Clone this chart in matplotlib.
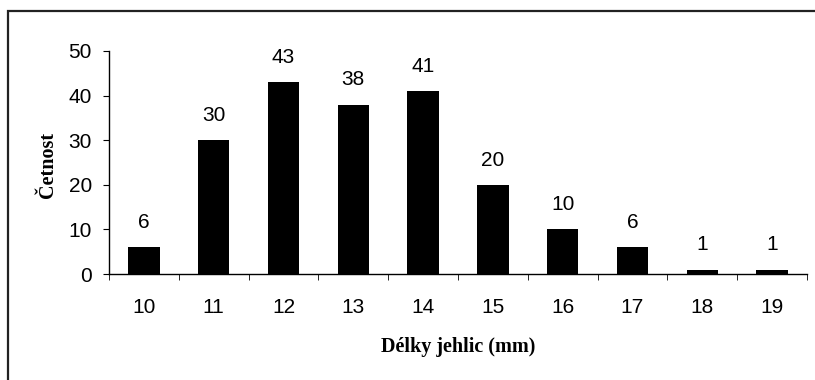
import matplotlib

matplotlib.use("Agg")
import matplotlib.pyplot as plt  # noqa: E402
from matplotlib.patches import Rectangle  # noqa: E402
import numpy as np  # noqa: E402

lengths = ["10", "11", "12", "13", "14", "15", "16", "17", "18", "19"]
counts = [6, 30, 43, 38, 41, 20, 10, 6, 1, 1]
yticks = [0, 10, 20, 30, 40, 50]

W, H = 815, 380
SANS = ["Liberation Sans", "DejaVu Sans"]
SERIF = ["Liberation Serif", "DejaVu Serif"]

fig = plt.figure(figsize=(W / 100, H / 100), dpi=100)

# outer chart frame (runs off the right and bottom edges)
fig.patches.append(Rectangle((8 / W, -0.1), 1.2, 1 - 11 / H + 0.1,
                             transform=fig.transFigure, fill=False,
                             edgecolor="#222222", linewidth=1.6))

ax = fig.add_axes([109 / W, 1 - 274 / H, (807 - 109) / W, (274 - 51) / H])
x = np.arange(len(lengths))
ax.bar(x, counts, width=0.45, color="black")

for xi, c in zip(x, counts):
    ax.annotate(str(c), (xi, c), xytext=(0, 11), textcoords="offset points",
                ha="center", va="bottom", fontsize=15, family=SANS)

ax.set_xlim(-0.5, len(lengths) - 0.5)
ax.set_ylim(0, 50)
ax.set_yticks(yticks)
ax.set_xticks(x)
ax.set_xticklabels(lengths)
ax.set_xticks(np.arange(-0.5, len(lengths)), minor=True)
ax.tick_params(axis="x", which="major", length=0, pad=17)
ax.tick_params(axis="x", which="minor", length=4.3, direction="out")
ax.tick_params(axis="y", length=4.3, direction="out", pad=8)
for lab in ax.get_xticklabels() + ax.get_yticklabels():
    lab.set_family(SANS)
    lab.set_fontsize(15)

for s in ("top", "right"):
    ax.spines[s].set_visible(False)
for s in ("left", "bottom"):
    ax.spines[s].set_linewidth(1)

fig.text(458 / W, 1 - 347 / H, "D\u00e9lky jehlic (mm)",
         family=SERIF, fontweight="bold", fontsize=14.5,
         ha="center", va="center")
fig.text(48 / W, 1 - 165 / H, "\u010cetnost",
         family=SERIF, fontweight="bold", fontsize=14.5,
         ha="center", va="center", rotation=90)

fig.savefig("out.png", dpi=100, facecolor="white")
